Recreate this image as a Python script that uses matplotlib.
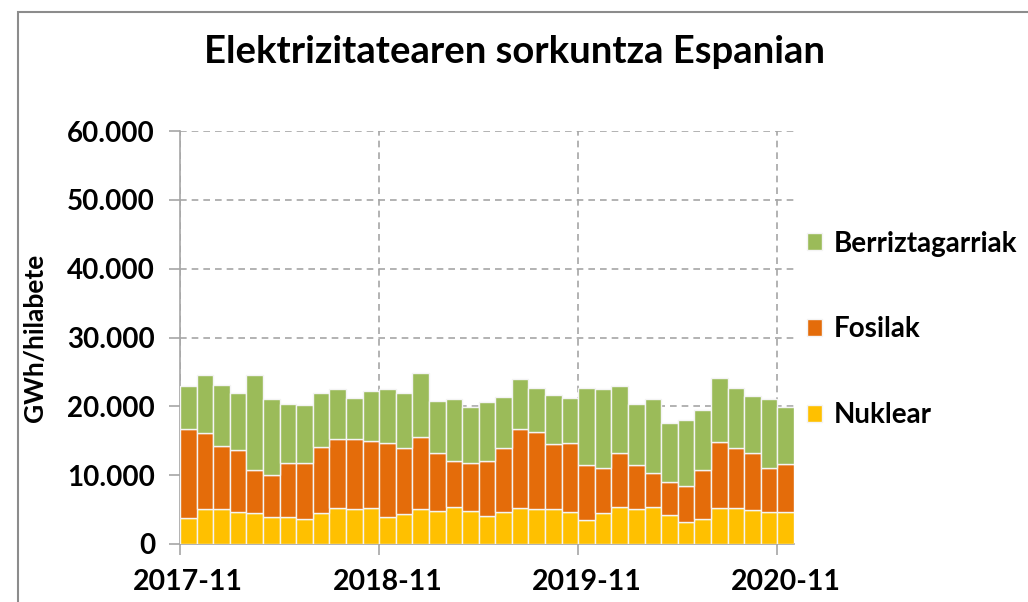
import numpy as np
import matplotlib
matplotlib.use('Agg')
import matplotlib.pyplot as plt
from matplotlib.ticker import FuncFormatter
from matplotlib.patches import Rectangle

plt.rcParams['font.family'] = ['Lato', 'DejaVu Sans']
plt.rcParams['font.weight'] = 'bold'

# monthly generation, GWh, 2017-11 .. 2020-11
months = ['2017-11', '2017-12', '2018-01', '2018-02', '2018-03', '2018-04', '2018-05',
          '2018-06', '2018-07', '2018-08', '2018-09', '2018-10', '2018-11', '2018-12',
          '2019-01', '2019-02', '2019-03', '2019-04', '2019-05', '2019-06', '2019-07',
          '2019-08', '2019-09', '2019-10', '2019-11', '2019-12', '2020-01', '2020-02',
          '2020-03', '2020-04', '2020-05', '2020-06', '2020-07', '2020-08', '2020-09',
          '2020-10', '2020-11']
tick_labels = ['2017-11', '2018-11', '2019-11', '2020-11']

nuklear = [3730, 5080, 5130, 4650, 4550, 3970, 3870, 3680, 4550, 5230, 5080, 5230,
           3970, 4360, 5130, 4840, 5420, 4750, 4070, 4700, 5230, 5130, 5080, 4650,
           3490, 4460, 5420, 5030, 5330, 4210, 3150, 3680, 5280, 5280, 4940, 4650, 4700]
# cumulative tops
top_fosil = [16660, 16080, 14300, 13600, 10800, 10070, 11770, 11800, 14050, 15200, 15200, 15000,
             14720, 13900, 15500, 13200, 12100, 11800, 12000, 13900, 16660, 16300, 14600, 14700,
             11500, 11100, 13200, 11480, 10360, 8960, 8380, 10700, 14770, 13900, 13270, 11000, 11670]
top_total = [22950, 24500, 23100, 22000, 24500, 21000, 20400, 20150, 22000, 22570, 21200, 22270,
             22470, 21900, 24900, 20800, 21000, 19950, 20700, 21400, 23900, 22700, 21650, 21260,
             22700, 22470, 22900, 20400, 21070, 17580, 18060, 19470, 24070, 22700, 21550, 21000, 19950]

nuklear = np.array(nuklear)
fosilak = np.array(top_fosil) - nuklear
berriz = np.array(top_total) - np.array(top_fosil)

c_green = '#9BBB59'
c_orange = '#E46C0A'
c_yellow = '#FFC000'

fig = plt.figure(figsize=(10.28, 6.02), dpi=100)
ax = fig.add_axes([180/1028, 1-544/602, 614/1028, 413/602])

x = np.arange(len(months))
ax.bar(x, nuklear, width=1, align='edge', color=c_yellow, edgecolor='#f4f4f4', linewidth=1, label='Nuklear', zorder=3)
ax.bar(x, fosilak, width=1, align='edge', bottom=nuklear, color=c_orange, edgecolor='#f4f4f4', linewidth=1, label='Fosilak', zorder=3)
ax.bar(x, berriz, width=1, align='edge', bottom=nuklear+fosilak, color=c_green, edgecolor='#f4f4f4', linewidth=1, label='Berriztagarriak', zorder=3)

ax.set_xlim(0, len(months))
ax.set_ylim(0, 60000)
ax.set_yticks(np.arange(0, 60001, 10000))
ax.yaxis.set_major_formatter(FuncFormatter(lambda v, p: '0' if v == 0 else f'{int(v):,}'.replace(',', '.')))
# tick marks at month start, labels centred on the month
pos = [months.index(t) for t in tick_labels]
ax.set_xticks(pos)
ax.set_xticklabels([])
ax.set_xticks([p + 0.5 for p in pos], minor=True)
ax.set_xticklabels(tick_labels, minor=True)

for s in ['top', 'right']:
    ax.spines[s].set_visible(False)
for s in ['left', 'bottom']:
    ax.spines[s].set_color('#a6a6a6')
    ax.spines[s].set_linewidth(1.2)
ax.grid(True, which='major', color='#a6a6a6', linestyle=(0, (4, 3)), linewidth=1.2, zorder=0)
ax.tick_params(axis='both', colors='#a6a6a6', labelcolor='black', length=8, width=1.2)
ax.tick_params(axis='x', which='minor', length=0, pad=18, labelsize=20.5, labelcolor='black')
ax.tick_params(axis='y', pad=10, labelsize=20)

ax.set_ylabel('GWh/hilabete', fontsize=19, fontweight='bold')
ax.yaxis.set_label_coords(-0.216, 0.5)
fig.suptitle('Elektrizitatearen sorkuntza Espanian', x=0.5, y=1-52/602, va='center',
             fontsize=27.5, fontweight='bold')

h, l = ax.get_legend_handles_labels()
ax.legend(h[::-1], l[::-1], loc='center left', bbox_to_anchor=(1.021, 0.52), frameon=False,
          fontsize=20, handlelength=0.55, handleheight=0.55, handletextpad=0.4, labelspacing=2.15,
          borderpad=0, borderaxespad=0)

# outer chart border
fig.patches.append(Rectangle((18/1028, -0.1), 1.2, 1-12/602+0.1, transform=fig.transFigure,
                             fill=False, edgecolor='#8c8c8c', linewidth=1.5))

fig.savefig('out.png', dpi=100)
